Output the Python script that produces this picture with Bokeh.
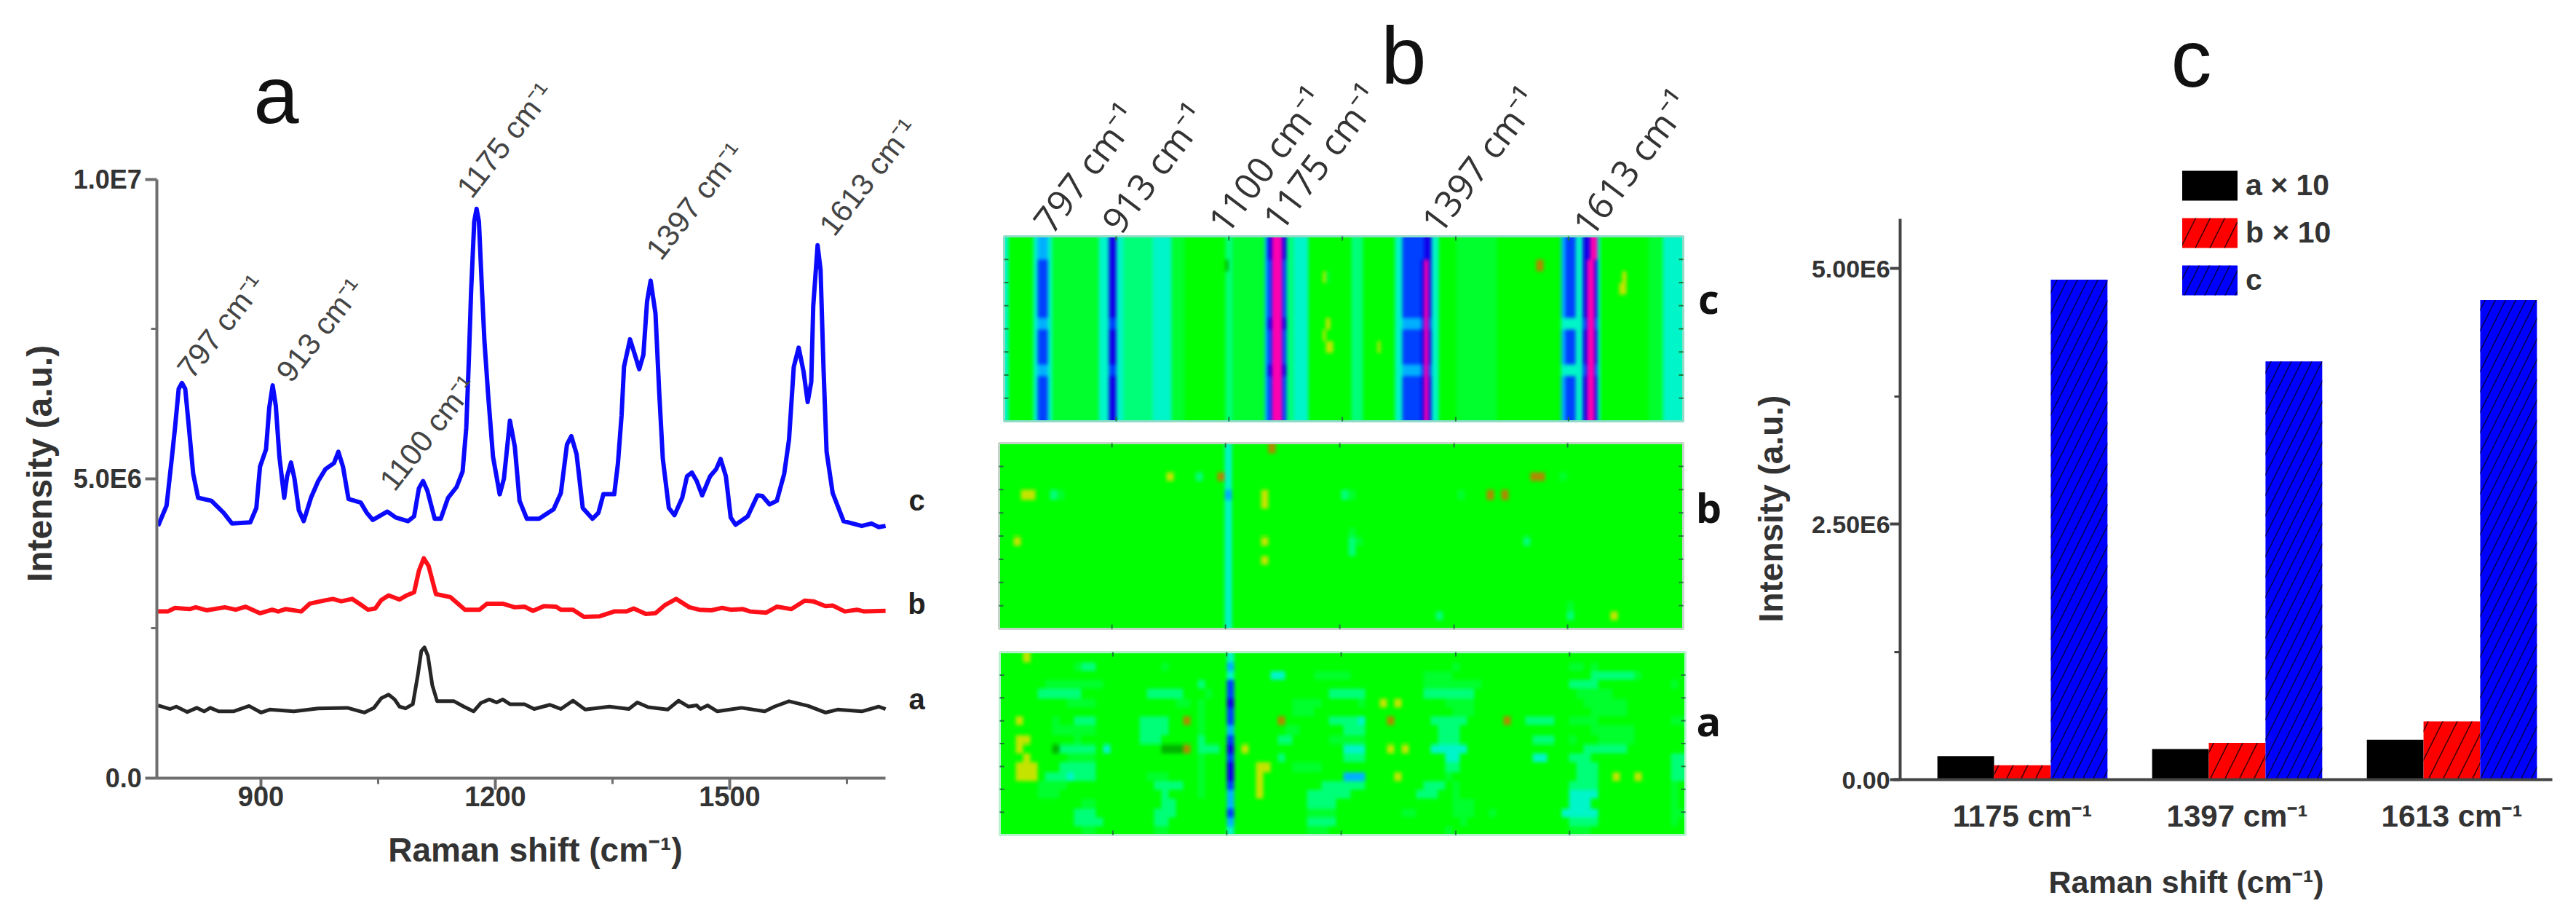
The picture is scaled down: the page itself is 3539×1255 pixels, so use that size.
import numpy as np
from bokeh.plotting import figure
from bokeh.layouts import row
from bokeh.models import Label, FixedTicker, Range1d, Legend, LegendItem, LinearAxis
from bokeh.embed import file_html
from bokeh.resources import INLINE

# ---------- panel a: spectra (cm-1, intensity in units of 1E6) ----------
c_wn = [768.3,779.2,785.4,790,794.7,798.8,803.1,808.7,813.3,819.6,836.6,852.2,863,886.3,894.1,898.8,906.5,910.6,915,919,923.6,929.8,933.5,938.5,942.9,948.5,954.7,964,973.3,982.6,993.5,999.1,1005,1012.1,1027.7,1035.4,1043.2,1061.8,1072.7,1088.2,1096,1102.2,1107.5,1113,1122.4,1130.2,1139.5,1150.4,1158.1,1162.8,1165.9,1169,1173,1176,1179,1183,1186,1190.7,1197,1205.6,1211,1218.7,1225,1231,1240.4,1256,1274.6,1283.9,1291.7,1297.3,1304,1311.9,1324.3,1332,1338.3,1352.2,1356.9,1361.6,1364.7,1372.4,1378.6,1384.2,1389.5,1394.2,1398.8,1405,1409.7,1414.4,1422.1,1429.3,1439.2,1445.4,1451.6,1457.8,1464.7,1474.9,1482.7,1488.3,1495.1,1501.3,1507.5,1523,1535.5,1541.7,1551,1560.3,1569.7,1575.9,1582,1588.3,1594.5,1599.8,1604.4,1606.9,1612.5,1616.3,1620,1624,1631.8,1645.8,1669,1681.5,1690.8,1699.5]
c_int = [4.21,4.55,5.28,5.85,6.50,6.60,6.50,5.73,5.08,4.68,4.63,4.43,4.25,4.27,4.51,5.20,5.49,6.18,6.56,6.22,5.37,4.68,5.04,5.27,5.00,4.47,4.29,4.68,4.96,5.16,5.26,5.45,5.20,4.66,4.60,4.43,4.31,4.45,4.35,4.29,4.37,4.84,4.96,4.80,4.33,4.33,4.68,4.86,5.12,5.85,6.91,8.13,9.30,9.51,9.30,8.13,7.31,6.42,5.37,4.74,5.00,5.97,5.53,4.63,4.33,4.33,4.49,4.76,5.57,5.71,5.41,4.51,4.33,4.43,4.74,4.74,5.25,6.06,6.87,7.33,7.07,6.83,7.07,7.96,8.31,7.76,6.46,5.33,4.51,4.39,4.68,5.04,5.10,4.96,4.72,5.04,5.16,5.33,5.04,4.35,4.23,4.37,4.72,4.71,4.57,4.63,5.08,5.65,6.87,7.19,6.79,6.28,6.62,7.88,8.90,8.49,6.87,5.45,4.76,4.29,4.21,4.25,4.19,4.21]

b_wn = [766.8,780.7,790,808.7,816.5,830.4,853.7,867.7,880.1,898.8,914.3,922.1,931.4,951.6,962.4,979.5,992,1002.8,1016.8,1026.1,1037,1046.3,1054,1063.4,1077.4,1086.7,1096,1102.2,1108.4,1114.6,1124,1142.6,1161.2,1179.9,1189.2,1209.4,1224.9,1237.3,1248.2,1262.2,1277.7,1283.9,1299.4,1313.4,1333.6,1352.2,1367.8,1377.1,1392.6,1405,1417.5,1431.4,1448.5,1461,1476.5,1490.5,1501.3,1516.9,1526.2,1546.4,1560.3,1579,1596,1606.9,1622.5,1631.8,1647.3,1662.8,1672.2,1699.5]
b_int = [2.78,2.78,2.84,2.82,2.85,2.80,2.85,2.81,2.86,2.75,2.81,2.78,2.82,2.78,2.91,2.96,2.99,2.95,2.99,2.91,2.81,2.83,2.97,3.05,2.98,3.05,3.10,3.46,3.67,3.54,3.07,3.02,2.81,2.81,2.91,2.91,2.85,2.86,2.79,2.87,2.86,2.81,2.81,2.69,2.70,2.78,2.78,2.83,2.74,2.75,2.89,2.99,2.85,2.81,2.80,2.84,2.81,2.82,2.78,2.76,2.86,2.82,2.96,2.95,2.87,2.88,2.78,2.81,2.78,2.79]

a_wn = [768.3,783.8,791.6,805.6,818,827.3,835,846,864.6,884.8,900.3,911.2,942.2,973.3,1010.6,1032.3,1044.7,1054,1063.4,1071.1,1077.4,1085.1,1094.4,1100.7,1105.3,1109.3,1113.7,1119.3,1125.5,1147.2,1159.7,1172.1,1181.4,1192.3,1201.6,1209.4,1218.7,1237.3,1249.7,1269.9,1283.9,1299.4,1315,1346,1370.9,1381.7,1395.7,1420.6,1434.6,1447,1457.8,1462.5,1471.8,1484.2,1515.3,1544.8,1557.2,1575.9,1600.7,1622.5,1638,1669,1690.8,1699.5]
a_int = [1.21,1.15,1.19,1.10,1.17,1.11,1.17,1.11,1.11,1.20,1.09,1.14,1.11,1.16,1.17,1.09,1.17,1.33,1.39,1.31,1.19,1.16,1.23,1.71,2.12,2.18,2.04,1.55,1.28,1.28,1.19,1.11,1.25,1.31,1.26,1.31,1.23,1.23,1.15,1.22,1.15,1.29,1.14,1.19,1.15,1.26,1.18,1.14,1.29,1.19,1.21,1.15,1.21,1.11,1.17,1.11,1.19,1.28,1.20,1.09,1.14,1.11,1.19,1.15]

peak_text = ["797 cm⁻¹", "913 cm⁻¹", "1100 cm⁻¹", "1175 cm⁻¹", "1397 cm⁻¹", "1613 cm⁻¹"]

# ---------- panel b: mapping levels, one character per cell ----------
# levels: 0 brown, 1 yellow, d dark green, . green baseline, 3..5 green to cyan, 6..8 blue, 9 magenta
map_a_rows = [
 "...1...... .......... .......... .5........ .......... .......... .......... .......... .......... ....",
 ".......... 344....... ..3....... .6........ .......... .......... ..3....... ........33 .3........ ....",
 ".......... .......... .......... .5.....55. ...33333.. ........33 33........ .......... .4444443.. ....",
 "......3333 3333...... .......4.. .7........ .......... ........33 333333.... ........44 44........ ..3.",
 ".....44444 4......... 44444...3. .7........ .....44444 ........44 44444..... .........3 3333...... ....",
 ".........3 333....... ....33.3.. .8........ 3333.....3 ..1.1..... .3333..... .......... 333333.... ....",
 ".......... .......... .......3.. .7........ 333....... .......... ..333..... .......... .33333.... ....",
 "..1....3.. 444......4 444..0.3.. .7......0. .....44445 ...0.....4 4444.....0 ..4444..33 33........ ..33",
 ".......333 333......4 444....3.. .6.......3 3......444 .......... 444....... .......... .333333... ....",
 "..11...... 3........4 44.....4.. .7......44 .....33333 .......... 444....... ...444..3. ..33333... ....",
 "..1....d44 444.5..... ..ddd0.444 .8.1...... .......555 ...1.1...5 5555...... .......... 444444.... ....",
 "...1.....3 333....... .......3.. .7......4. .......444 .......... .55....... ...55...44 4......... ..44",
 "..111...44 444....... .......3.. .8...11... 3333...... .......... .44....... .........4 44........ ..44",
 "..111.4445 444....... 333....3.. .8...1.... .......666 ....1..... .3........ .........4 44..1..1.. ..44",
 ".....3333. .......... .4444..3.. .7...1.... ....444444 ........44 4.3....... ........44 44........ ..3.",
 ".....333.. .......... ..4....3.. .6...1.... ..444444.. .......444 ..3....... ........55 55........ ..3.",
 ".......... .33....... ..44...... .6........ ..4444.... .......... ..333..... ........55 5......... ..3.",
 ".......... 444....... .444...... .7........ ..3333.... .....33... ..333..3.. .......555 55........ ..33",
 ".......... 4444...... .44....... .6........ ..4444.... .......... ...3...... ........44 44........ ..3.",
 ".......... .33....... .33....... .5........ ..333..... .......... .3........ ........33 3......... ....",
]

map_b_band = "55555655555555555555"
map_b_spots = [(3,73,"0"),(3,74,"0"),(3,23,"1"),(3,30,"0"),(3,27,"4"),(3,77,"3"),(5,3,"1"),(5,4,"1"),(5,7,"4"),(5,8,"3"),
               (5,36,"1"),(6,36,"1"),(5,47,"4"),(5,48,"3"),(5,63,"3"),(5,67,"0"),(5,69,"0"),(10,36,"1"),(12,36,"1"),
               (9,48,"3"),(10,48,"4"),(10,49,"3"),(11,48,"4"),(10,72,"4"),(17,78,"3"),(18,78,"4"),(18,84,"1"),(18,60,"4"),
               (0,37,"0"),(10,2,"1")]

c_profile = "5*1 2*7 5*1 7*3 5*1 3*13 5*3 8*2 5*2 4*8 5*5 3*4 2*11 4*2 3*9 6*1 7*1 9*3 7*1 4*2 5*4 2*12 4*3 2*9 5*2 7*5 8*1 9*1 8*1 5*2 2*5 3*11 2*18 6*1 7*3 5*2 8*1 9*2 8*1 5*1 2*13 3*4 5*6"
c_break   = "5*1 2*7 5*1 6*3 5*1 3*13 5*3 7*2 5*2 4*8 5*5 3*4 2*11 4*2 3*9 6*1 8*1 9*3 8*1 4*2 5*4 2*12 4*3 2*9 5*2 6*5 7*1 9*1 7*1 5*2 2*5 3*11 2*18 5*4 5*2 7*1 9*2 7*1 5*1 2*13 3*4 5*6"
c_top     = "5*1 2*7 5*1 6*3 5*1 3*13 5*3 8*2 5*2 4*8 5*5 3*4 2*11 4*2 3*9 6*1 8*1 9*3 8*1 4*2 5*4 2*12 4*3 2*9 5*2 7*6 8*2 5*2 2*5 3*11 2*18 6*1 7*3 5*2 8*2 9*2 5*1 2*13 3*4 5*6"
c_order = "TTPPPPPBPPPBPPPP"
map_c_spots = [(2,147,"0"),(2,148,"0"),(3,88,"1"),(3,89,"3"),(4,170,"1"),(4,171,"1"),(3,171,"1"),(9,89,"1"),(9,90,"1"),(8,88,"1"),(7,89,"1"),(9,103,"1"),(2,61,"d")]

LEVELS = "01d.3456789"
PALETTE = ["#b08a00","#c4e400","#00b400","#00ff00","#00ff2c","#00ff78","#00f5c8","#00b0ff","#0040ff","#1000e8","#ff00b0"]

# ---------- panel c: bars ----------
bar_groups = ["1175 cm⁻¹", "1397 cm⁻¹", "1613 cm⁻¹"]
bar_a = [0.23e6, 0.30e6, 0.39e6]
bar_b = [0.14e6, 0.36e6, 0.57e6]
bar_c = [4.89e6, 4.09e6, 4.69e6]

TXT = "#333333"
AX = "#6e6e6e"
BOLD = "Liberation Sans"
HEIGHT = 1247

def base_fig(width, xr, yr):
    # the frame fills the canvas, so that nothing is clipped at a frame edge
    p = figure(width=width, height=HEIGHT, x_range=Range1d(*xr), y_range=Range1d(*yr), toolbar_location=None,
               output_backend="svg", min_border_left=0, min_border_right=0, min_border_top=0,
               min_border_bottom=0, x_axis_type=None, y_axis_type=None, tools="", frame_align=False)
    p.grid.visible = False
    p.outline_line_color = None
    p.background_fill_color = None
    p.border_fill_color = None
    return p

def text(p, x0, fx, fy, s, size, color=TXT, style="normal", font=BOLD, angle=0, align="left", baseline="alphabetic"):
    p.add_layout(Label(x=fx-x0, y=HEIGHT-fy, x_units="screen", y_units="screen", text=s,
                       text_font=font, text_font_size=f"{size}px", text_font_style=style,
                       text_color=color, angle=angle, angle_units="deg",
                       text_align=align, text_baseline=baseline))

def style_axis(ax, size):
    ax.axis_line_color = AX
    ax.axis_line_width = 4
    ax.major_tick_line_color = AX
    ax.minor_tick_line_color = AX
    ax.major_tick_line_width = 4
    ax.minor_tick_line_width = 3
    ax.major_tick_in = 0
    ax.minor_tick_in = 0
    ax.major_tick_out = 16
    ax.minor_tick_out = 8
    ax.major_label_text_font = BOLD
    ax.major_label_text_font_style = "bold"
    ax.major_label_text_font_size = f"{size}px"
    ax.major_label_text_color = TXT

# ---------- panel a: canvas x 0..1310 ----------
PXCM, PXI = 322/300, 82.15e-6
xr_a = (900 - 358/PXCM, 900 + (1310-358)/PXCM)
yr_a = ((1067.5-HEIGHT)/PXI, 1067.5/PXI)
A = base_fig(1310, xr_a, yr_a)
xa = LinearAxis(fixed_location=0, bounds=(767, 1699.5),
                ticker=FixedTicker(ticks=[900,1200,1500], minor_ticks=[1050,1350,1650]))
ya = LinearAxis(fixed_location=767, bounds=(0, 1e7),
                ticker=FixedTicker(ticks=[0,5e6,1e7], minor_ticks=[2.5e6,7.5e6]),
                major_label_overrides={0:"0.0", 5000000:"5.0E6", 10000000:"1.0E7"})
style_axis(xa, 38); style_axis(ya, 36)
xa.major_label_standoff = -4
A.add_layout(xa, "below"); A.add_layout(ya, "left")
for wn, iv, col, w in [(c_wn,c_int,"#0a0aff",6),(b_wn,b_int,"#ff1018",6),(a_wn,a_int,"#262626",5)]:
    A.line(wn, [v*1e6 for v in iv], line_color=col, line_width=w, line_join="round")
for s,(fx,fy) in zip(peak_text, [(252,513),(388,518),(530,667),(636,265),(896,350),(1134,317)]):
    text(A, 0, fx, fy, s, 42, color="#444444", angle=52)
text(A, 0, 379, 130, "a", 112, color="#111111", align="center")
for s,fy in [("c",686),("b",828),("a",959)]:
    text(A, 0, 1259, fy, s, 40, style="bold", align="center", baseline="middle", color="#222222")
text(A, 0, 735, 1166, "Raman shift (cm⁻¹)", 46, style="bold", align="center", baseline="middle")
text(A, 0, 54, 636, "Intensity (a.u.)", 48, style="bold", align="center", baseline="middle", angle=90)

# ---------- panel b: canvas x 1310..2380, ranges in page pixels ----------
def expand(s):
    out = ""
    for tok in s.split():
        lv, n = tok.split("*")
        out += ("." if lv == "2" else lv) * int(n)
    return out

def to_grid(rows, spots=()):
    g = [[LEVELS.index(ch) for ch in r] for r in rows]
    for r, c, lv in spots:
        g[r][c] = LEVELS.index(lv)
    return np.array(g)

PAL_RGB = np.array([[int(h[i:i+2], 16) for i in (1, 3, 5)] for h in PALETTE], dtype=float)
KERNEL = np.array([1, 2, 3, 2, 1], dtype=float) / 9

def soft_rgba(grid, nx, ny):
    # colours the level grid and softens it to the look of the scanned figure
    ix = np.arange(nx) * grid.shape[1] // nx
    iy = np.arange(ny) * grid.shape[0] // ny
    rgb = PAL_RGB[grid[iy][:, ix]]
    for axis in (0, 1):
        rgb = np.apply_along_axis(lambda v: np.convolve(np.pad(v, 2, mode="edge"), KERNEL, mode="valid"), axis, rgb)
    out = np.empty((ny, nx), dtype=np.uint32)
    view = out.view(np.uint8).reshape((ny, nx, 4))
    view[..., :3] = rgb[::-1].round().astype(np.uint8)  # image rows run bottom-up
    view[..., 3] = 255
    return out

a_rows = [r.replace(" ", "") for r in map_a_rows]
b_rows = ["."*31 + lv + "."*62 for lv in map_b_band]
variants = {"P": expand(c_profile), "B": expand(c_break), "T": expand(c_top)}
c_rows = [variants[k] for k in c_order]

B = base_fig(1070, (1310, 2380), (0, HEIGHT))
MAP_TICKS = [0.165, 0.331, 0.498, 0.665, 0.831]
SIDE_TICKS = [0.125, 0.25, 0.375, 0.5, 0.625, 0.75, 0.875]
for grid, (l, r, t, b), edge in [(to_grid(c_rows, map_c_spots), (1379, 2312, 324, 578), "#8fdcc8"),
                                 (to_grid(b_rows, map_b_spots), (1372, 2312, 608, 863), "#c4d4c8"),
                                 (to_grid(a_rows), (1373, 2315, 895, 1146), "#b8f0d0")]:
    B.image_rgba(image=[soft_rgba(grid, (r-l)//2, (b-t)//2)], x=l, y=HEIGHT-b, dw=r-l, dh=b-t)
    B.quad(left=l, right=r, bottom=HEIGHT-b, top=HEIGHT-t, fill_color=None, line_color=edge, line_width=3)
    xt = [l + f*(r-l) for f in MAP_TICKS]
    yt = [HEIGHT - t - f*(b-t) for f in SIDE_TICKS]
    B.segment(xt + xt, [HEIGHT-t]*5 + [HEIGHT-b]*5, xt + xt, [HEIGHT-t-6]*5 + [HEIGHT-b+6]*5,
              line_color="#1f7a3a", line_width=2)
    B.segment([l]*7 + [r]*7, yt + yt, [l+6]*7 + [r-6]*7, yt + yt, line_color="#1f7a3a", line_width=2)
for s,(fx,fy) in zip(peak_text, [(1430,312),(1524,312),(1670,312),(1745,308),(1963,312),(2171,316)]):
    text(B, 1310, fx, fy, s, 50, color="#333333", font="Open Sans", angle=53)
text(B, 1310, 1928, 76, "b", 112, color="#111111", align="center")
for s, fy in [("c",408),("b",695),("a",988)]:
    text(B, 1310, 2347, fy, s, 56, color="#111111", font="Open Sans", style="bold", align="center", baseline="middle")

# ---------- panel c: canvas x 2380..3531 ----------
PXG, PXV = 295.0, 140.4e-6
xr_c = ((2380-2778)/PXG, (3531-2778)/PXG)
yr_c = ((1070-HEIGHT)/PXV, 1070/PXV)
C = base_fig(1151, xr_c, yr_c)
xc = LinearAxis(fixed_location=0, bounds=(-0.60, 2.468), ticker=FixedTicker(ticks=[0,1,2]),
                major_label_overrides=dict(enumerate(bar_groups)))
yc = LinearAxis(fixed_location=-0.569, bounds=(0, 5.484e6),
                ticker=FixedTicker(ticks=[0,2.5e6,5e6], minor_ticks=[1.25e6,3.75e6]),
                major_label_overrides={0:"0.00", 2500000:"2.50E6", 5000000:"5.00E6"})
style_axis(xc, 42); style_axis(yc, 34)
xc.major_tick_out = 0
xc.minor_tick_out = 0
xc.major_label_standoff = 26
yc.major_tick_out = 14
yc.major_label_standoff = 0
xc.axis_line_color = "#444444"; yc.axis_line_color = "#444444"
yc.major_tick_line_color = "#444444"; yc.minor_tick_line_color = "#444444"
C.add_layout(xc, "below"); C.add_layout(yc, "left")
W = 0.264
xs = [0, 1, 2]
r_a = C.vbar(x=[v - W for v in xs], top=bar_a, width=W, fill_color="#000000", line_color=None)
r_b = C.vbar(x=xs, top=bar_b, width=W, fill_color="#ff0000", line_color=None,
             hatch_pattern="right_diagonal_line", hatch_color="#3a0000", hatch_scale=40, hatch_weight=1.5)
r_c = C.vbar(x=[v + W for v in xs], top=bar_c, width=W, fill_color="#0000ff", line_color=None,
             hatch_pattern="right_diagonal_line", hatch_color="#000050", hatch_scale=28, hatch_weight=1.5)
leg = Legend(items=[LegendItem(label="a × 10", renderers=[r_a]), LegendItem(label="b × 10", renderers=[r_b]),
                    LegendItem(label="c", renderers=[r_c])],
             location=(2988-2380, HEIGHT-410), orientation="vertical", padding=0, margin=0, spacing=14,
             glyph_width=95, glyph_height=51, label_height=51, label_standoff=2,
             border_line_color=None, background_fill_color=None, background_fill_alpha=0,
             label_text_font=BOLD, label_text_font_style="bold", label_text_font_size="41px",
             label_text_color=TXT)
C.add_layout(leg, "center")
text(C, 2380, 3010, 80, "c", 112, color="#111111", align="center")
text(C, 2380, 3003, 1210, "Raman shift (cm⁻¹)", 43, style="bold", align="center", baseline="middle")
text(C, 2380, 2432, 698, "Intensity (a.u.)", 46, style="bold", align="center", baseline="middle", angle=90)

page = row(A, B, C, spacing=0)
open("out.html", "w").write(file_html(page, INLINE))
